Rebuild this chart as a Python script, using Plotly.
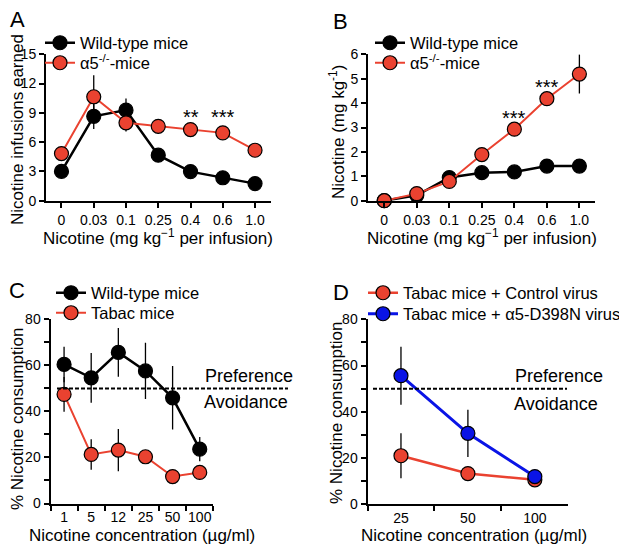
import plotly.graph_objects as go

# ---------------- data ----------------
dose_cats = ["0", "0.03", "0.1", "0.25", "0.4", "0.6", "1.0"]
a_wt = [3.0, 8.65, 9.28, 4.66, 2.98, 2.35, 1.75]
a_wt_err = [0.3, 1.3, 1.2, 0.6, 0.3, 0.3, 0.3]
a_ko = [4.83, 10.65, 7.98, 7.62, 7.29, 6.95, 5.17]
a_ko_err = [0.3, 2.2, 0.9, 0.75, 0.3, 0.3, 0.3]
a_stars = ["", "", "", "", "**", "***", ""]
a_star_y = [0, 0, 0, 0, 8.6, 8.6, 0]

b_wt = [0.0, 0.22, 0.95, 1.15, 1.18, 1.42, 1.42]
b_wt_err = [0.02, 0.05, 0.1, 0.1, 0.1, 0.1, 0.2]
b_ko = [0.0, 0.29, 0.79, 1.89, 2.93, 4.18, 5.19]
b_ko_err = [0.02, 0.05, 0.1, 0.1, 0.1, 0.3, 0.8]
b_stars = ["", "", "", "", "***", "***", "***"]
b_star_y = [0, 0, 0, 0, 3.39, 4.66, 6.09]

conc_c = ["1", "5", "12", "25", "50", "100"]
c_wt = [60.4, 54.6, 65.6, 57.6, 45.9, 23.6]
c_wt_err = [7.7, 10.8, 10.6, 12.2, 13.8, 5.3]
c_tabac = [47.4, 21.3, 23.2, 20.3, 11.7, 13.5]
c_tabac_err = [7.5, 6.6, 9.2, 1.5, 1.0, 1.0]

conc_d = ["25", "50", "100"]
d_ctrl = [21.0, 13.3, 10.6]
d_ctrl_err = [9.7, 1.0, 1.0]
d_mut = [55.6, 30.7, 12.0]
d_mut_err = [12.5, 10.2, 1.0]

threshold = 50

# ---------------- style ----------------
BLACK = "#000000"
RED = "#EA4230"
BLUE = "#0A14E6"
FONT = "Arial, Liberation Sans, Helvetica, sans-serif"
OFF = 8                      # page body margin in the browser
W, H = 627 - OFF, 551 - OFF  # figure size so that it fits the window


def PX(x):
    return (x - OFF) / W


def PY(y):
    return 1 - (y - OFF) / H


fig = go.Figure()

# legend boxes (window px): left edge, vertical centre
legend_pos = {
    "legend": (40, 43), "legend2": (40, 63),
    "legend3": (370, 43), "legend4": (370, 63),
    "legend5": (51, 293), "legend6": (51, 313),
    "legend7": (363, 293), "legend8": (363, 314),
}


def add_series(x, y, err, color, line_w, name, xa, ya, legend, fill):
    fig.add_trace(go.Scatter(
        x=x, y=y, name=name, mode="lines+markers",
        line=dict(color=color, width=line_w),
        marker=dict(size=14, color=fill, line=dict(color="#000000", width=1.2)),
        error_y=dict(type="data", array=err, visible=True, color="#000000",
                     thickness=1.3, width=0),
        xaxis=xa, yaxis=ya, legend=legend, cliponaxis=False, showlegend=True,
    ))


add_series(dose_cats, a_wt, a_wt_err, BLACK, 2.5, "Wild-type mice", "x", "y", "legend", BLACK)
add_series(dose_cats, a_ko, a_ko_err, RED, 2, "α5<sup>-/-</sup>-mice", "x", "y", "legend2", RED)
add_series(dose_cats, b_wt, b_wt_err, BLACK, 2.5, "Wild-type mice", "x2", "y2", "legend3", BLACK)
add_series(dose_cats, b_ko, b_ko_err, RED, 2, "α5<sup>-/-</sup>-mice", "x2", "y2", "legend4", RED)
add_series(conc_c, c_wt, c_wt_err, BLACK, 2.5, "Wild-type mice", "x3", "y3", "legend5", BLACK)
add_series(conc_c, c_tabac, c_tabac_err, RED, 2, "Tabac mice", "x3", "y3", "legend6", RED)
add_series(conc_d, d_ctrl, d_ctrl_err, RED, 2.5, "Tabac mice + Control virus", "x4", "y4", "legend7", RED)
add_series(conc_d, d_mut, d_mut_err, BLUE, 3, "Tabac mice + α5-D398N virus", "x4", "y4", "legend8", BLUE)

# star annotations (category index positions)
for xa, ya, stars, sy in (("x", "y", a_stars, a_star_y), ("x2", "y2", b_stars, b_star_y)):
    for i, (s, yy) in enumerate(zip(stars, sy)):
        if s:
            fig.add_annotation(x=i, y=yy, xref=xa, yref=ya, text=s, showarrow=False,
                               font=dict(size=20, color="black", family=FONT),
                               yanchor="middle")

axis_common = dict(showline=True, linecolor="black", linewidth=2, ticks="outside",
                   ticklen=5, tickwidth=2, tickcolor="black", showgrid=False,
                   zeroline=False, automargin=False, tickangle=0,
                   tickfont=dict(size=14, color="black", family=FONT))


def dom_x(a, b):
    return [PX(a), PX(b)]


def dom_y(bottom, top):
    return [PY(bottom), PY(top)]


minor_c = dict(dtick=10, ticks="outside", ticklen=5, tickwidth=2, tickcolor="black")

fig.update_layout(
    xaxis=dict(axis_common, type="category", domain=dom_x(46, 270.5), range=[-0.48, 6.48], anchor="y"),
    yaxis=dict(axis_common, domain=dom_y(200.7, 54.3), range=[0, 15], dtick=3, anchor="x"),
    xaxis2=dict(axis_common, type="category", domain=dom_x(368, 595), range=[-0.5, 6.48], anchor="y2"),
    yaxis2=dict(axis_common, domain=dom_y(200.7, 54.3), range=[0, 6], dtick=1, anchor="x2"),
    xaxis3=dict(axis_common, type="category", domain=dom_x(50.5, 213.3), range=[-0.5, 5.5],
                tickson="boundaries", anchor="y3"),
    yaxis3=dict(axis_common, domain=dom_y(503.5, 319.3), range=[0, 80], dtick=20,
                minor=minor_c, anchor="x3"),
    xaxis4=dict(axis_common, type="category", domain=dom_x(367.5, 568.3), range=[-0.5, 2.5],
                tickson="boundaries", anchor="y4"),
    yaxis4=dict(axis_common, domain=dom_y(504.3, 319.3), range=[0, 80], dtick=20,
                minor=minor_c, anchor="x4"),
)

leg_common = dict(font=dict(size=16.5, color="black", family=FONT), bgcolor="rgba(0,0,0,0)",
                  xanchor="left", yanchor="middle", itemwidth=30, borderwidth=0)
for key, (lx, ly) in legend_pos.items():
    fig.update_layout({key: dict(leg_common, x=PX(lx), y=PY(ly))})

# threshold dashed lines
fig.add_shape(type="line", xref="paper", yref="y3", x0=PX(57), x1=PX(288), y0=threshold, y1=threshold,
              line=dict(color="black", width=2, dash="4px,2px"))
fig.add_shape(type="line", xref="paper", yref="y4", x0=PX(373), x1=PX(567), y0=threshold, y1=threshold,
              line=dict(color="black", width=2, dash="4px,2px"))


def txt(x, y, s, size=18, anchor="left", angle=0):
    fig.add_annotation(x=PX(x), y=PY(y), xref="paper", yref="paper", text=s, showarrow=False,
                       xanchor=anchor, yanchor="middle", textangle=angle,
                       font=dict(size=size, color="black", family=FONT))


# axis titles
xt_dose = "Nicotine (mg kg<sup>−1</sup> per infusion)"
xt_conc = "Nicotine concentration (µg/ml)"
txt(158, 237, xt_dose, 17, "center")
txt(482, 237, xt_dose, 17, "center")
txt(142, 535, xt_conc, 17, "center")
txt(474, 535, xt_conc, 17, "center")
txt(18, 130, "Nicotine infusions earned", 17, "center", -90)
txt(337, 132, "Nicotine (mg kg<sup>-1</sup>)", 17, "center", -90)
txt(17, 419, "% Nicotine consumption", 17, "center", -90)
txt(336, 413, "% Nicotine consumption", 17, "center", -90)

txt(203, 376, "Preference")
txt(202, 402, "Avoidance")
txt(513, 376, "Preference")
txt(512, 404, "Avoidance")

txt(8, 20, "A", 22)
txt(331, 21, "B", 22)
txt(7, 290, "C", 22)
txt(331, 292, "D", 22)

fig.update_layout(width=W, height=H, margin=dict(l=0, r=0, t=0, b=0, autoexpand=False),
                  paper_bgcolor="white", plot_bgcolor="white", showlegend=True,
                  font=dict(family=FONT, color="black"))

fig.write_html("out.html")
